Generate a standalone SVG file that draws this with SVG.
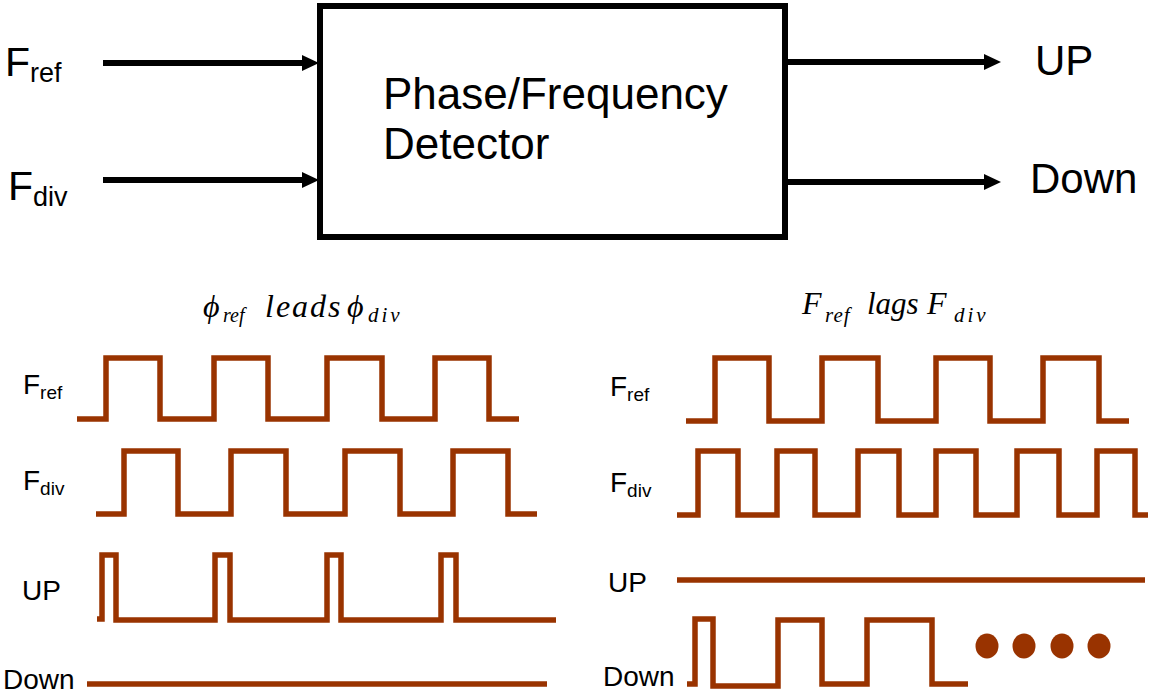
<svg xmlns="http://www.w3.org/2000/svg" width="1155" height="694" viewBox="0 0 1155 694">
<style>
.sans{font-family:"Liberation Sans",Arial,sans-serif;fill:#000}
.ital{font-family:"Liberation Serif","Times New Roman",serif;font-style:italic;fill:#000}
.wave{fill:none;stroke:#993300;stroke-width:5.5;stroke-linejoin:miter;stroke-linecap:butt}
.conn{stroke:#000;stroke-width:6;fill:none}
</style>
<defs>
<marker id="ah" markerUnits="userSpaceOnUse" markerWidth="18" markerHeight="18" viewBox="0 0 18 18" refX="0" refY="9" orient="auto">
<path d="M0,1 L17,9 L0,17 z" fill="#000"/>
</marker>
</defs>
<rect width="1155" height="694" fill="#fff"/>

<g id="pfd">
<rect x="320" y="6" width="465" height="231" fill="#fff" stroke="#000" stroke-width="6"/>
<text class="sans" font-size="44" x="383" y="109">Phase/Frequency</text>
<text class="sans" font-size="44" x="383" y="159">Detector</text>
</g>

<g id="in-fref"><text class="sans" font-size="41" x="5" y="76">F<tspan font-size="27" dy="6">ref</tspan></text></g>
<g id="in-fdiv"><text class="sans" font-size="41" x="8" y="200">F<tspan font-size="27" dy="6">div</tspan></text></g>
<g id="out-up"><text class="sans" font-size="42" x="1035" y="75">UP</text></g>
<g id="out-down"><text class="sans" font-size="42" x="1030" y="193">Down</text></g>

<g id="connectors">
<line class="conn" x1="103" y1="63" x2="302" y2="63" marker-end="url(#ah)"/>
<line class="conn" x1="103" y1="180" x2="302" y2="180" marker-end="url(#ah)"/>
<line class="conn" x1="788" y1="62" x2="984" y2="62" marker-end="url(#ah)"/>
<line class="conn" x1="788" y1="182" x2="984" y2="182" marker-end="url(#ah)"/>
</g>

<g id="title-left">
<text class="ital" font-size="32" x="203" y="317">ϕ</text>
<text class="ital" font-size="20" x="223" y="322">ref</text>
<text class="ital" font-size="32" x="265" y="317" letter-spacing="2">leads</text>
<text class="ital" font-size="32" x="347" y="317">ϕ</text>
<text class="ital" font-size="21" x="368" y="322" letter-spacing="3">div</text>
</g>
<g id="title-right">
<text class="ital" font-size="32" x="802" y="314">F</text>
<text class="ital" font-size="21" x="825" y="322" letter-spacing="1">ref</text>
<text class="ital" font-size="31" x="867" y="314">lags</text>
<text class="ital" font-size="32" x="927" y="314">F</text>
<text class="ital" font-size="21" x="954" y="322" letter-spacing="3">div</text>
</g>

<g id="left-fref">
<text class="sans" font-size="28" x="23" y="394">F<tspan font-size="19" dy="5">ref</tspan></text>
<polyline class="wave" points="77,419 106,419 106,358 160,358 160,419 214,419 214,358 268,358 268,419 327,419 327,358 382,358 382,419 435,419 435,358 489,358 489,419 519,419"/>
</g>
<g id="left-fdiv">
<text class="sans" font-size="28" x="23" y="490">F<tspan font-size="19" dy="5">div</tspan></text>
<polyline class="wave" points="96,514 124,514 124,451 178,451 178,514 231,514 231,451 286,451 286,514 345,514 345,451 400,451 400,514 453,514 453,451 508,451 508,514 537,514"/>
</g>
<g id="left-up">
<text class="sans" font-size="28" x="22" y="600">UP</text>
<polyline class="wave" points="97,619 102,619 102,555 116,555 116,620 215,620 215,555 230,555 230,620 327,620 327,555 341,555 341,620 441,620 441,555 456,555 456,620 556,620"/>
</g>
<g id="left-down">
<text class="sans" font-size="28" x="3" y="689">Down</text>
<line class="wave" x1="87" y1="684" x2="547" y2="684"/>
</g>

<g id="right-fref">
<text class="sans" font-size="28" x="610" y="396">F<tspan font-size="19" dy="5">ref</tspan></text>
<polyline class="wave" points="686,421 715,421 715,358 769,358 769,421 822,421 822,358 878,358 878,421 936,421 936,358 990,358 990,421 1043,421 1043,358 1099,358 1099,421 1129,421"/>
</g>
<g id="right-fdiv">
<text class="sans" font-size="28" x="610" y="492">F<tspan font-size="19" dy="5">div</tspan></text>
<polyline class="wave" points="677,515 698,515 698,451 738,451 738,515 777,515 777,451 815,451 815,515 858,515 858,451 899,451 899,515 936,515 936,451 976,451 976,515 1017,515 1017,451 1059,451 1059,515 1097,515 1097,451 1135,451 1135,515 1148,515"/>
</g>
<g id="right-up">
<text class="sans" font-size="28" x="608" y="592">UP</text>
<line class="wave" x1="677" y1="580" x2="1145" y2="580"/>
</g>
<g id="right-down">
<text class="sans" font-size="28" x="603" y="686">Down</text>
<polyline class="wave" points="687,684 695,684 695,619 713,619 713,686 778,686 778,620 822,620 822,684 867,684 867,620 932,620 932,684 968,684"/>
<ellipse cx="987" cy="646" rx="11.5" ry="12.5" fill="#993300"/>
<ellipse cx="1024" cy="646" rx="11.5" ry="12.5" fill="#993300"/>
<ellipse cx="1062" cy="646" rx="11.5" ry="12.5" fill="#993300"/>
<ellipse cx="1099" cy="646" rx="11.5" ry="12.5" fill="#993300"/>
</g>
</svg>
